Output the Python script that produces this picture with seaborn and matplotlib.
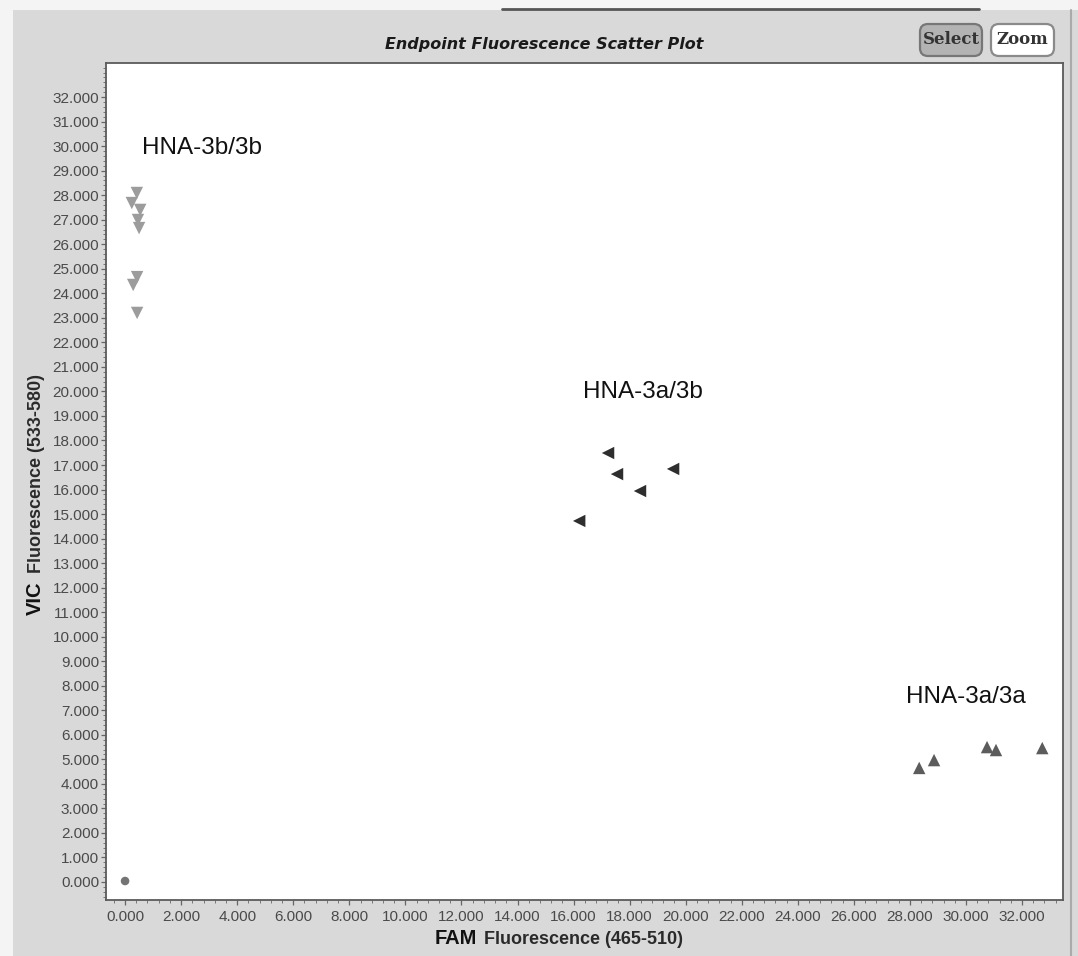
import pandas as pd
import matplotlib
matplotlib.use("Agg")
import matplotlib.pyplot as plt
import matplotlib.ticker as mticker
from matplotlib.patches import Rectangle, FancyBboxPatch
from matplotlib.transforms import IdentityTransform
from matplotlib.lines import Line2D
import seaborn as sns

# endpoint fluorescence per well, FAM on x and VIC on y
hom_b_fam = [420, 240, 540, 460, 500, 430, 290, 430]
hom_b_vic = [28090, 27680, 27400, 26990, 26660, 24660, 24340, 23200]

het_fam = [17230, 17550, 18370, 19550, 16200]
het_vic = [17490, 16630, 15940, 16840, 14720]

hom_a_fam = [28330, 28860, 30750, 31070, 32720]
hom_a_vic = [4650, 4970, 5500, 5380, 5460]

blank_fam = [0]
blank_vic = [40]

# cluster captions
cluster_names = ["HNA-3b/3b", "HNA-3a/3b", "HNA-3a/3a"]
cluster_fam = [610, 16340, 27860]
cluster_vic = [29920, 19980, 7540]

# axis ticks (instrument shows 0..32000)
x_ticks = list(range(0, 32001, 2000))
y_ticks = list(range(0, 32001, 1000))

df = pd.concat([
    pd.DataFrame({"FAM": hom_b_fam, "VIC": hom_b_vic, "genotype": "HNA-3b/3b"}),
    pd.DataFrame({"FAM": het_fam, "VIC": het_vic, "genotype": "HNA-3a/3b"}),
    pd.DataFrame({"FAM": hom_a_fam, "VIC": hom_a_vic, "genotype": "HNA-3a/3a"}),
    pd.DataFrame({"FAM": blank_fam, "VIC": blank_vic, "genotype": "Blank"}),
], ignore_index=True)

colors = {"HNA-3b/3b": "#9c9c9c", "HNA-3a/3b": "#2e2e2e", "HNA-3a/3a": "#5c5c5c", "Blank": "#747474"}
markers = {"HNA-3b/3b": "v", "HNA-3a/3b": "<", "HNA-3a/3a": "^", "Blank": "o"}
sizes = {"HNA-3b/3b": 80, "HNA-3a/3b": 80, "HNA-3a/3a": 80, "Blank": 38}

sns.set_style("ticks")
plt.rcParams["font.family"] = ["Liberation Sans", "DejaVu Sans"]

W, H = 1078, 956
fig = plt.figure(figsize=(W / 100, H / 100), dpi=100)
fig.patch.set_facecolor("#f4f4f4")

# grey window panel behind the plot
fig.add_artist(Rectangle((13, 0), W - 13, H - 10, transform=IdentityTransform(),
                         facecolor="#d9d9d9", edgecolor="none", zorder=0))
fig.add_artist(Line2D([502, 979], [H - 9, H - 9], transform=IdentityTransform(),
                      color="#555555", lw=2))
fig.add_artist(Line2D([1071, 1071], [0, H - 10], transform=IdentityTransform(),
                      color="#aaaaaa", lw=1.5))

ax = fig.add_axes([106 / W, (H - 900) / H, (1063 - 106) / W, (900 - 63) / H])
ax.set_facecolor("white")

sns.scatterplot(data=df, x="FAM", y="VIC", hue="genotype", style="genotype", size="genotype",
                palette=colors, markers=markers, sizes=sizes, linewidth=0,
                legend=False, ax=ax, zorder=3)

for name, fx, vy in zip(cluster_names, cluster_fam, cluster_vic):
    ax.text(fx, vy, name, ha="left", va="center", fontsize=17.5, color="#111111",
            family=["Liberation Sans", "DejaVu Sans"])

ax.set_xlim(-680, 33460)
ax.set_ylim(-734, 33390)
ax.xaxis.set_major_locator(mticker.FixedLocator(x_ticks))
ax.xaxis.set_minor_locator(mticker.MultipleLocator(400))
ax.yaxis.set_major_locator(mticker.FixedLocator(y_ticks))
ax.yaxis.set_minor_locator(mticker.MultipleLocator(200))
fmt = mticker.FuncFormatter(lambda v, p: f"{v / 1000:.3f}")
ax.xaxis.set_major_formatter(fmt)
ax.yaxis.set_major_formatter(fmt)
ax.set_xlabel("")
ax.set_ylabel("")

tick_font = ["Liberation Sans Narrow", "Liberation Sans", "DejaVu Sans"]
ax.tick_params(which="major", length=3.5, width=0.9, color="#666666",
               labelsize=11, labelcolor="#4a4a4a")
ax.tick_params(which="minor", length=2, width=0.7, color="#777777")
ax.tick_params(axis="y", pad=1.5)
ax.tick_params(axis="x", pad=4)
for lab in ax.get_xticklabels() + ax.get_yticklabels():
    lab.set_family(tick_font)

for side in ["left", "bottom", "top", "right"]:
    ax.spines[side].set_color("#5a5a5a")
    ax.spines[side].set_linewidth(1.3)
    ax.spines[side].set_visible(True)

# title and axis captions
fig.text(544 / W, 1 - 45 / H, "Endpoint Fluorescence Scatter Plot", ha="center", va="center",
         fontsize=11.5, fontweight="bold", fontstyle="italic", color="#1a1a1a",
         family=["DejaVu Sans"])

base_y = (H - 944) / H
fig.text(435 / W, base_y, "FAM", ha="left", va="baseline", fontsize=14.5,
         fontweight="bold", color="#111111")
fig.text(484 / W, base_y, "Fluorescence (465-510)", ha="left", va="baseline", fontsize=13,
         fontweight="bold", color="#2a2a2a", family=tick_font)

fig.text(35 / W, (H - 615) / H, "VIC", rotation=90, ha="center", va="bottom",
         fontsize=14.5, fontweight="bold", color="#111111")
fig.text(37 / W, (H - 573) / H, "Fluorescence (533-580)", rotation=90, ha="center", va="bottom",
         fontsize=13, fontweight="bold", color="#2a2a2a", family=tick_font)

# Select / Zoom buttons
fig.add_artist(FancyBboxPatch((920, H - 56), 62, 32, boxstyle="round,pad=0,rounding_size=8",
                              transform=IdentityTransform(), facecolor="#b3b3b3",
                              edgecolor="#777777", lw=1.6))
fig.add_artist(FancyBboxPatch((991, H - 56), 63, 32, boxstyle="round,pad=0,rounding_size=8",
                              transform=IdentityTransform(), facecolor="white",
                              edgecolor="#8a8a8a", lw=1.6))
fig.text(951 / W, (H - 40) / H, "Select", ha="center", va="center", fontsize=12,
         fontweight="bold", color="#333333", family=["DejaVu Serif"])
fig.text(1022 / W, (H - 40) / H, "Zoom", ha="center", va="center", fontsize=12,
         fontweight="bold", color="#333333", family=["DejaVu Serif"])

fig.savefig("out.png", dpi=100, facecolor=fig.get_facecolor())
